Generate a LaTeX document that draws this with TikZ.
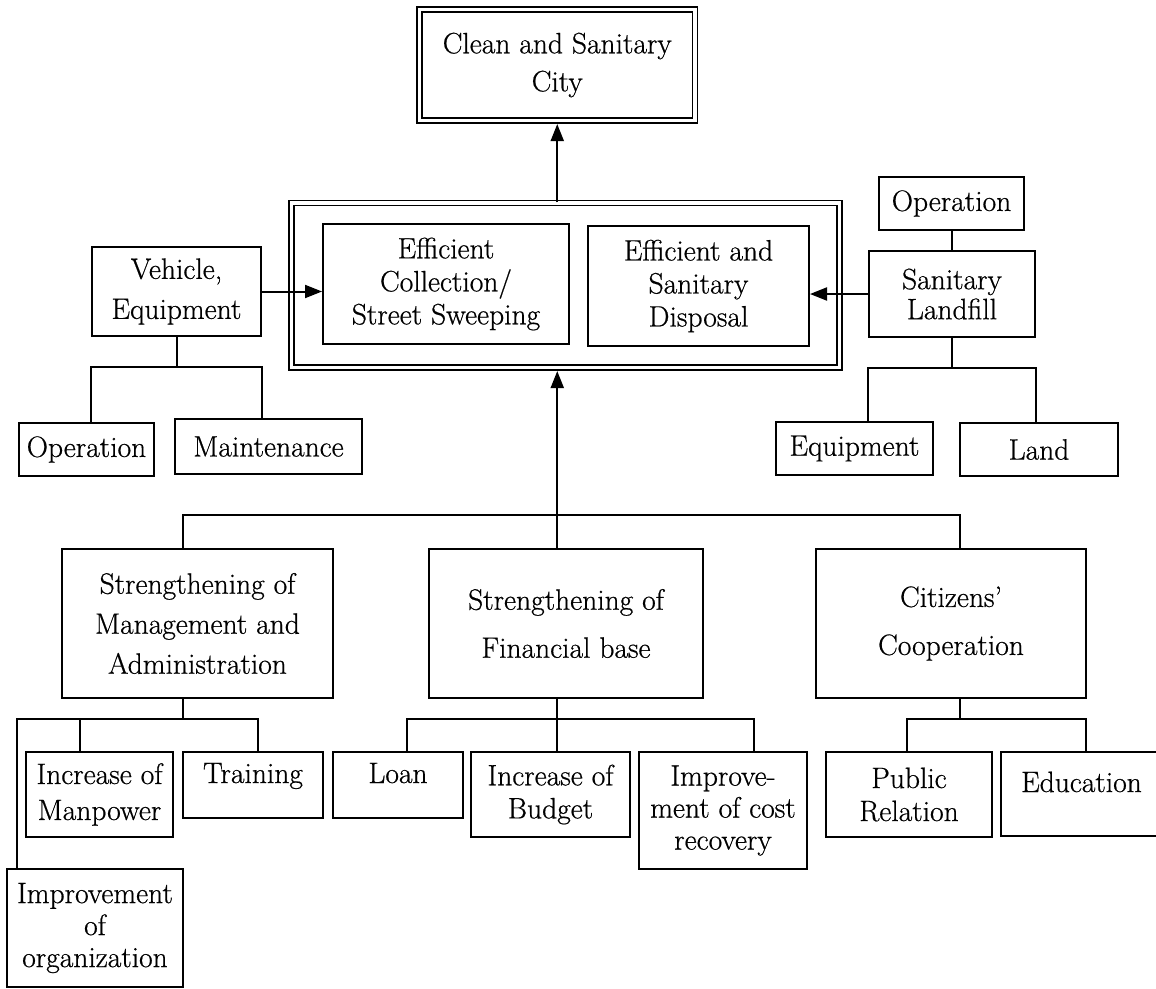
\documentclass[tikz,border=0pt]{standalone}
\usepackage{fontspec}
\setmainfont{Latin Modern Roman}[FakeBold=0.6]
\usetikzlibrary{arrows.meta}
\begin{document}
\begin{tikzpicture}[x=1pt,y=-1pt,
  sz/.style 2 args={minimum width=#1pt, minimum height=#2pt},
  ls/.style={font=\fontsize{29.5}{#1}\selectfont},
  box/.style={draw, line width=2pt, inner sep=0pt, align=center, ls=33},
  dbl/.style={box, double, double distance=3.2pt, line width=1.5pt},
  raised/.style={text height=20pt, text depth=24pt},
  link/.style={line width=2pt},
  arr/.style={link, -{Triangle[length=17pt,width=13pt]}}
]
\fill[white] (0,0) rectangle (1156,988);
\useasboundingbox (0,0) rectangle (1156,988);

% goal and the two core services
\node[dbl, sz={275.5}{111}, ls=38] (clean) at (557.25,65) {Clean and Sanitary\\City};
\node[dbl, sz={548}{164.5}] (core) at (565.5,285.25) {};
\node[box, sz={246}{120}] (collect) at (446,284) {Efficient\\Collection/\\Street Sweeping};
\node[box, sz={221}{120}] (dispose) at (698.5,286) {Efficient and\\Sanitary\\Disposal};

% collection side
\node[box, sz={169}{89}, ls=40] (vehicle) at (176.5,291.5) {Vehicle,\\Equipment};
\node[box, sz={135}{53}] (vop) at (86.5,449.5) {Operation};
\node[box, sz={187}{55}] (maint) at (268.5,446.5) {Maintenance};

% disposal side
\node[box, sz={145}{53}] (lop) at (951.5,203.5) {Operation};
\node[box, sz={166}{86}, ls=30] (landfill) at (952,294) {Sanitary\\Landfill};
\node[box, sz={157}{53}] (equip) at (854.5,448.5) {Equipment};
\node[box, sz={158}{53}] (land) at (1039,449.5) {Land};

% institutional pillars
\node[box, sz={271}{149}, ls=40] (mgmt) at (197.5,623.5) {Strengthening of\\Management and\\Administration};
\node[box, sz={274}{149}, ls=48] (fin) at (566,623.5) {Strengthening of\\Financial base};
\node[box, sz={270}{149}, ls=48] (citizen) at (951,623.5) {Citizens’\\Cooperation};

% measures
\node[box, sz={147}{85}, ls=36] (manpower) at (99.5,794.5) {Increase of\\Manpower};
\node[box, sz={140}{66}, raised] (training) at (253,785) {Training};
\node[box, sz={130}{66}, raised] (loan) at (398,785) {Loan};
\node[box, sz={159}{85}] (budget) at (550.5,794.5) {Increase of\\Budget};
\node[box, sz={168}{117}, ls=32] (costrec) at (723,810.5) {Improve-\\ment of cost\\recovery};
\node[box, sz={166}{85}] (pubrel) at (909,794.5) {Public\\Relation};
\node[box, sz={161}{84}, raised] (educ) at (1081.5,794) {Education};
\node[box, sz={176}{118}, ls=32] (org) at (95,928) {Improvement\\of\\organization};

% arrows into the core and the goal
\draw[arr, shorten >=2.8pt] (core.north -| clean.south) -- (clean.south);
\draw[arr] (vehicle.east) -- (vehicle.east -| collect.west);
\draw[arr] (landfill.west) -- (landfill.west -| dispose.east);
\draw[arr, shorten >=2.8pt] (fin.north -| clean.south) -- (core.south -| clean.south);

% bus joining the three pillars
\coordinate (busL) at (183,515);
\coordinate (busR) at (960,515);
\draw[link] (mgmt.north -| busL) -- (busL) -- (busR) -- (citizen.north -| busR);

% vehicle tree
\coordinate (vbus) at (0,367);
\draw[link] (vehicle.south) -- (vehicle.south |- vbus);
\draw[link] (vop.north -| vehicle.west) |- (vbus -| vehicle.east) -- (maint.north -| vehicle.east);

% landfill tree
\draw[link] (lop.south) -- (landfill.north -| lop.south);
\coordinate (lbus) at (0,368);
\draw[link] (landfill.south) -- (landfill.south |- lbus);
\draw[link] (equip.north -| landfill.west) |- (lbus -| landfill.east) -- (land.north -| landfill.east);

% management tree
\coordinate (mL) at (17,719);
\coordinate (mA) at (80,719);
\coordinate (mR) at (258,719);
\draw[link] (mgmt.south -| busL) -- (busL |- mL);
\draw[link] (org.north -| mL) -- (mL) -- (mR) -- (training.north -| mR);
\draw[link] (mA) -- (manpower.north -| mA);

% finance tree
\coordinate (fL) at (407,719);
\coordinate (fR) at (754,719);
\draw[link] (fin.south -| clean.south) -- (budget.north -| clean.south);
\draw[link] (loan.north -| fL) -- (fL) -- (fR) -- (costrec.north -| fR);

% citizens tree
\coordinate (cL) at (907,719);
\coordinate (cR) at (1086,719);
\draw[link] (citizen.south -| busR) -- (busR |- cL);
\draw[link] (pubrel.north -| cL) -- (cL) -- (cR) -- (educ.north -| cR);
\end{tikzpicture}
\end{document}
